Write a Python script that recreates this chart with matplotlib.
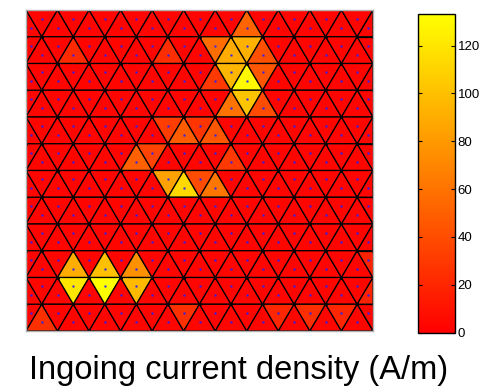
import numpy as np
import matplotlib
matplotlib.use("Agg")
import matplotlib.pyplot as plt
import matplotlib.tri as mtri

# Mesh layout: node rows from top to bottom, intervals across the square
n_node_rows = 13
n_intervals = 11

# Current density (A/m) on the elements
base_current = 3.0
# each hot element: strip (row band from the top), position in the band (left to right), value
hot_strip = [0, 1, 1, 1, 1, 2, 2, 2, 2, 3, 3, 3,
             1, 1, 4, 4, 4, 4, 5, 5, 5,
             6, 6, 6, 6,
             9, 9, 9, 10, 10, 10,
             11, 11, 11, 11, 11, 9, 10]
hot_index = [14, 12, 13, 14, 15, 12, 13, 14, 15, 13, 14, 15,
             3, 9, 9, 10, 12, 11, 7, 8, 13,
             9, 10, 11, 12,
             3, 5, 7, 3, 5, 7,
             1, 10, 16, 18, 20, 22, 22]
hot_current = [52, 57, 89, 92, 42, 30, 95, 130, 45, 60, 102, 40,
               22, 24, 32, 48, 45, 28, 50, 35, 30,
               84, 113, 40, 62,
               90, 100, 75, 120, 133, 97,
               25, 25, 20, 24, 20, 18, 18]

cbar_ticks = [0, 20, 40, 60, 80, 100, 120]
v_min, v_max = 0, 133
title_text = "Ingoing current density (A/m)"

# ---- build the triangular mesh ----
xs, ys, rows = [], [], []
for j in range(n_node_rows):
    y = 1.0 - j / (n_node_rows - 1)
    if j % 2 == 0:
        row_x = [i / n_intervals for i in range(n_intervals + 1)]
    else:
        row_x = [0.0] + [(i + 0.5) / n_intervals for i in range(n_intervals)] + [1.0]
    idx = []
    for x in row_x:
        idx.append(len(xs))
        xs.append(x)
        ys.append(y)
    rows.append(idx)
xs = np.array(xs)
ys = np.array(ys)

triangles = []
for j in range(n_node_rows - 1):
    top, bot = rows[j], rows[j + 1]
    i = k = 0
    while i < len(top) - 1 or k < len(bot) - 1:
        if i == len(top) - 1:
            adv_top = False
        elif k == len(bot) - 1:
            adv_top = True
        else:
            nt, nb = xs[top[i + 1]], xs[bot[k + 1]]
            if abs(nt - nb) < 1e-9:
                adv_top = xs[top[i]] < xs[bot[k]]
            else:
                adv_top = nt < nb
        if adv_top:
            triangles.append([top[i], top[i + 1], bot[k]])
            i += 1
        else:
            triangles.append([top[i], bot[k], bot[k + 1]])
            k += 1
triangles = np.array(triangles)
per_strip = len(triangles) // (n_node_rows - 1)

current = np.full(len(triangles), base_current)
for s, p, v in zip(hot_strip, hot_index, hot_current):
    current[s * per_strip + p] = v

tri = mtri.Triangulation(xs, ys, triangles)

# ---- figure ----
fig = plt.figure(figsize=(4.92, 3.87), dpi=100)
ax = fig.add_axes([26 / 492, 56 / 387, 347 / 492, 321 / 387])
pc = ax.tripcolor(tri, facecolors=current, cmap="autumn", vmin=v_min, vmax=v_max,
                  edgecolors="black", linewidth=0.9)
ax.plot(xs, ys, "o", ms=2.2, color="black", mec="none")
cx = xs[triangles].mean(axis=1)
cy = ys[triangles].mean(axis=1)
ax.plot(cx, cy, "s", ms=2.0, color="#2020ff", mec="none")
ax.set_xlim(0, 1)
ax.set_ylim(0, 1)
ax.set_xticks([])
ax.set_yticks([])
for sp in ax.spines.values():
    sp.set_color("#b0b0b0")
    sp.set_linewidth(1.0)

cax = fig.add_axes([418 / 492, 54.5 / 387, 37 / 492, 318 / 387])
cb = fig.colorbar(pc, cax=cax, ticks=cbar_ticks)
cb.outline.set_linewidth(1.0)
cax.tick_params(direction="in", left=True, right=True, length=3, width=0.8,
                labelsize=9.5, pad=2)
for lab in cax.get_yticklabels():
    lab.set_family(["Liberation Sans", "DejaVu Sans"])

fig.text(0.485, 0.02, title_text, ha="center", va="baseline", fontsize=23.5,
         family=["Liberation Sans", "DejaVu Sans"])

fig.savefig("out.png", dpi=100)
